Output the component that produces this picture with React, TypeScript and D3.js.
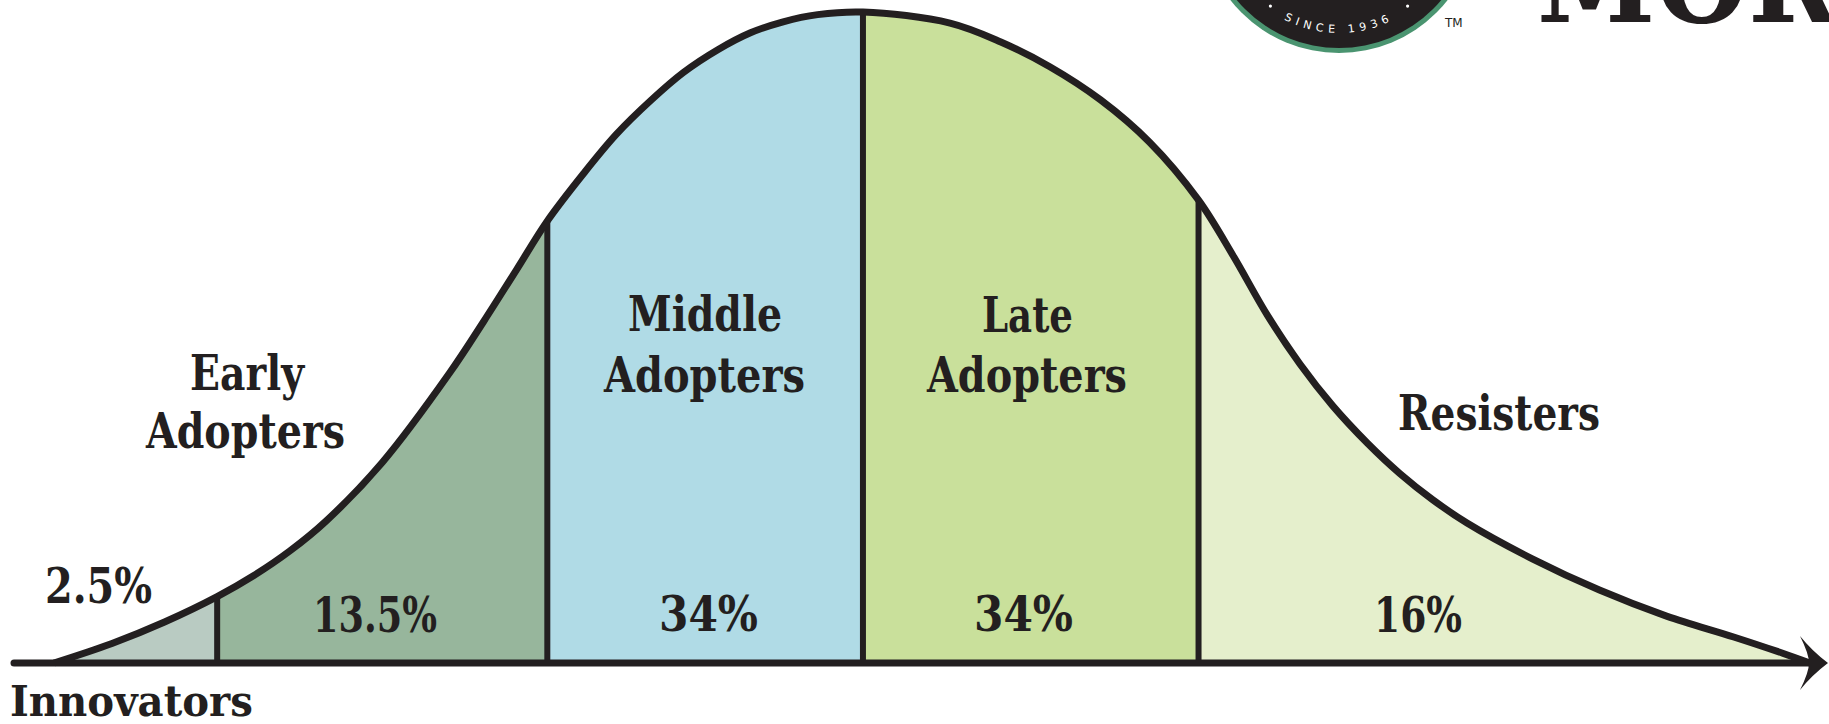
import { useMemo } from "react"
import * as d3 from "d3"

// adoption curve (x: % of axis length, y: % of peak height)
const curveX = [2.2, 5.4, 8.3, 11.2, 13.2, 15.2, 17.2, 20.3, 24.0, 25.9, 27.7, 29.4, 31.4, 33.2, 35.1, 36.9, 38.8, 40.6, 42.4, 44.3, 46.8, 51.6, 54.4, 57.1, 59.9, 62.6, 65.3, 67.2, 69.1, 70.9, 72.7, 74.6, 76.4, 78.2, 80.1, 83.7, 87.4, 91.1, 94.8, 97.5, 99.0]
const curveY = [0, 3.0, 6.3, 10.2, 13.4, 17.2, 21.8, 30.8, 44.5, 52.5, 60.4, 67.9, 75.2, 81.2, 86.4, 90.7, 94.2, 96.8, 98.5, 99.6, 100, 98.3, 95.4, 91.6, 86.5, 80.0, 71.1, 62.6, 53.4, 45.9, 39.5, 33.8, 29.1, 25.1, 21.5, 16.0, 11.2, 7.2, 4.0, 1.5, 0]

// segments
const segmentNames = ["Innovators", "Early Adopters", "Middle Adopters", "Late Adopters", "Resisters"]
const segmentShares = ["2.5%", "13.5%", "34%", "34%", "16%"]
const segmentBounds = [2.2, 11.2, 29.4, 46.8, 65.3, 99.0]
const segmentColors = ["#b9cbc2", "#97b69c", "#b0dbe6", "#c9e09b", "#e5efcc"]

const W = 1829
const H = 724
const INK = "#231f20"
const SERIF = "'DejaVu Serif', 'Liberation Serif', serif"

// text placement (left x, baseline y, fitted width, size)
const nameLabels = [
  { lines: ["Innovators"], x: [10], y: [716], w: [243], size: 42 },
  { lines: ["Early", "Adopters"], x: [190, 146], y: [390, 448], w: [114, 199], size: 48 },
  { lines: ["Middle", "Adopters"], x: [628, 604], y: [331, 392], w: [154, 201], size: 48 },
  { lines: ["Late", "Adopters"], x: [982, 927], y: [332, 392], w: [91, 200], size: 48 },
  { lines: ["Resisters"], x: [1398], y: [430], w: [202], size: 48 },
]
const shareLabels = [
  { x: 45, y: 603, w: 107 },
  { x: 313, y: 632, w: 124 },
  { x: 659, y: 631, w: 99 },
  { x: 974, y: 631, w: 99 },
  { x: 1374, y: 632, w: 88 },
]

export default function App() {
  const x = d3.scaleLinear().domain([0, 100]).range([14, 1828])
  const y = d3.scaleLinear().domain([0, 100]).range([663, 12])

  const pts = useMemo(() => curveX.map((v, i) => [v, curveY[i]] as [number, number]), [])

  const areaPath = d3
    .area<[number, number]>()
    .x((d) => x(d[0]))
    .y0(y(0))
    .y1((d) => y(d[1]))
    .curve(d3.curveCatmullRom.alpha(0.5))(pts) || ""

  const linePath = d3
    .line<[number, number]>()
    .x((d) => x(d[0]))
    .y((d) => y(d[1]))
    .curve(d3.curveCatmullRom.alpha(0.5))(pts) || ""

  const base = y(0)
  const tip = x(100)

  // logo geometry
  const cx = 1339
  const cy = -85
  const rText = 118
  const a = (62 * Math.PI) / 180
  const arcD = `M ${cx - rText * Math.sin(a)} ${cy + rText * Math.cos(a)} A ${rText} ${rText} 0 0 0 ${cx + rText * Math.sin(a)} ${cy + rText * Math.cos(a)}`
  const dotAng = (37 * Math.PI) / 180

  return (
    <svg
      width={W}
      height={H}
      viewBox={`0 0 ${W} ${H}`}
      style={{ position: "absolute", left: 0, top: 0, display: "block", background: "#fff" }}
    >
      <defs>
        {segmentNames.map((n, i) => (
          <clipPath id={`band-${i}`} key={n}>
            <rect x={x(segmentBounds[i])} y={0} width={x(segmentBounds[i + 1]) - x(segmentBounds[i])} height={H} />
          </clipPath>
        ))}
        <clipPath id="under-curve">
          <path d={areaPath} />
        </clipPath>
        <path id="since-arc" d={arcD} />
      </defs>

      {/* logo, cut by the top edge */}
      <g>
        <circle cx={cx} cy={cy} r={138} fill="#4a9470" />
        <circle cx={cx} cy={cy} r={133} fill={INK} />
        <text fill="#fff" fontFamily="'DejaVu Sans', sans-serif" fontSize={11} letterSpacing={5}>
          <textPath href="#since-arc" startOffset="50%" textAnchor="middle">
            SINCE 1936
          </textPath>
        </text>
        <circle cx={cx - 114 * Math.sin(dotAng)} cy={cy + 114 * Math.cos(dotAng)} r={1.6} fill="#fff" />
        <circle cx={cx + 114 * Math.sin(dotAng)} cy={cy + 114 * Math.cos(dotAng)} r={1.6} fill="#fff" />
        <text x={1445} y={27} fontFamily="'DejaVu Sans', sans-serif" fontSize={12} fill={INK}>
          TM
        </text>
        <text
          x={1537}
          y={22}
          fontFamily={SERIF}
          fontWeight="bold"
          fontSize={118}
          fill={INK}
          textLength={300}
          lengthAdjust="spacingAndGlyphs"
        >
          MOR
        </text>
      </g>

      {/* coloured segments */}
      {segmentNames.map((n, i) => (
        <path key={n} d={areaPath} fill={segmentColors[i]} clipPath={`url(#band-${i})`} />
      ))}

      {/* dividers */}
      <g clipPath="url(#under-curve)">
        {segmentBounds.slice(1, -1).map((b) => (
          <line key={b} x1={x(b)} x2={x(b)} y1={y(0)} y2={y(100)} stroke={INK} strokeWidth={6} />
        ))}
      </g>

      {/* curve outline */}
      <path d={linePath} fill="none" stroke={INK} strokeWidth={7} strokeLinejoin="round" />

      {/* axis with arrow */}
      <line x1={x(0)} x2={tip - 14} y1={base} y2={base} stroke={INK} strokeWidth={7} strokeLinecap="round" />
      <path
        d={`M ${tip} ${base} Q ${tip - 16} ${base - 12} ${tip - 28} ${base - 27} Q ${tip - 19} ${base - 9} ${tip - 19} ${base} Q ${tip - 19} ${base + 9} ${tip - 28} ${base + 27} Q ${tip - 16} ${base + 12} ${tip} ${base} Z`}
        fill={INK}
      />

      {/* segment names */}
      {nameLabels.map((l, i) =>
        l.lines.map((t, j) => (
          <text
            key={`${i}-${j}`}
            x={l.x[j]}
            y={l.y[j]}
            fontFamily={SERIF}
            fontWeight="bold"
            fontSize={l.size}
            fill={INK}
            textLength={l.w[j]}
            lengthAdjust="spacingAndGlyphs"
          >
            {t}
          </text>
        )),
      )}

      {/* shares */}
      {shareLabels.map((l, i) => (
        <text
          key={i}
          x={l.x}
          y={l.y}
          fontFamily={SERIF}
          fontWeight="bold"
          fontSize={48}
          fill={INK}
          textLength={l.w}
          lengthAdjust="spacingAndGlyphs"
        >
          {segmentShares[i]}
        </text>
      ))}
    </svg>
  )
}
